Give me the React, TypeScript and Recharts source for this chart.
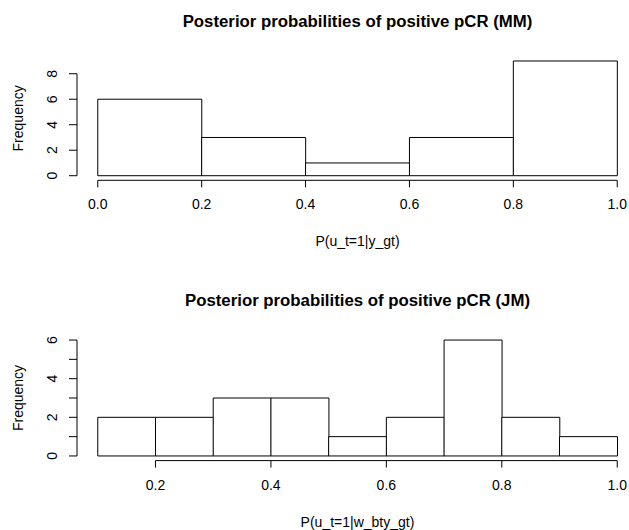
import { ComposedChart, Bar, XAxis, YAxis, ReferenceLine, Label } from "recharts";

// histogram of P(u_t=1|y_gt), bins of width 0.2
const mmBinMids = [0.1, 0.3, 0.5, 0.7, 0.9];
const mmCounts = [6, 3, 1, 3, 9];
const mmXTicks = [0, 0.2, 0.4, 0.6, 0.8, 1.0];
const mmYTicks = [0, 2, 4, 6, 8];

// histogram of P(u_t=1|w_bty_gt), bins of width 0.1
const jmBinMids = [0.15, 0.25, 0.35, 0.45, 0.55, 0.65, 0.75, 0.85, 0.95];
const jmCounts = [2, 2, 3, 3, 1, 2, 6, 2, 1];
const jmXTicks = [0.2, 0.4, 0.6, 0.8, 1.0];
const jmYTicks = [0, 1, 2, 3, 4, 5, 6];

const FONT = '"Liberation Sans", Arial, Helvetica, sans-serif';
const INK = "#000";

const toRows = (mids: number[], counts: number[]) =>
  mids.map((mid, i) => ({ mid, count: counts[i] }));

const XTick = (props: any) => {
  const { x, y, payload } = props;
  return (
    <text x={x} y={y + 15} textAnchor="middle" dominantBaseline="central" fontSize={14} fontFamily={FONT} fill={INK}>
      {Number(payload.value).toFixed(1)}
    </text>
  );
};

// R prints y labels parallel to the axis and skips the odd ones when they would crowd
const YTick = (props: any) => {
  const { x, y, payload } = props;
  if (payload.value % 2 !== 0) return <g />;
  const cx = x - 15;
  return (
    <text x={cx} y={y} transform={`rotate(-90 ${cx} ${y})`} textAnchor="middle" dominantBaseline="central" fontSize={14} fontFamily={FONT} fill={INK}>
      {payload.value}
    </text>
  );
};

type HistProps = {
  title: string;
  xLabel: string;
  mids: number[];
  counts: number[];
  xDomain: [number, number];
  yDomain: [number, number];
  xTicks: number[];
  yTicks: number[];
  marginTop: number;
  xAxisHeight: number;
  marginBottom: number;
  titleTop: number;
};

function Histogram(p: HistProps) {
  const data = toRows(p.mids, p.counts);
  const xFirst = p.xTicks[0];
  const xLast = p.xTicks[p.xTicks.length - 1];
  const yFirst = p.yTicks[0];
  const yLast = p.yTicks[p.yTicks.length - 1];
  return (
    <div style={{ position: "relative", width: 629, height: 265 }}>
      <div
        style={{
          position: "absolute",
          left: 57.5,
          width: 600,
          top: p.titleTop,
          textAlign: "center",
          fontFamily: FONT,
          fontWeight: "bold",
          fontSize: 16.8,
          lineHeight: "20px",
          color: INK,
        }}
      >
        {p.title}
      </div>
      <ComposedChart
        width={660}
        height={265}
        data={data}
        margin={{ top: p.marginTop, right: 22, bottom: p.marginBottom, left: 0 }}
        barCategoryGap={0}
        barGap={0}
        style={{ overflow: "visible" }}
      >
        <XAxis
          dataKey="mid"
          type="number"
          domain={p.xDomain}
          ticks={p.xTicks}
          allowDataOverflow
          interval={0}
          height={p.xAxisHeight}
          axisLine={false}
          tickLine={{ stroke: INK }}
          tickSize={7}
          tick={<XTick />}
        >
          <Label
            content={(lp: any) => {
              const vb = lp.viewBox;
              return (
                <text x={vb.x + vb.width / 2} y={vb.y + 61} textAnchor="middle" dominantBaseline="central" fontSize={14} fontFamily={FONT} fill={INK}>
                  {p.xLabel}
                </text>
              );
            }}
          />
        </XAxis>
        <YAxis
          type="number"
          domain={p.yDomain}
          ticks={p.yTicks}
          allowDataOverflow
          interval={0}
          width={77}
          axisLine={false}
          tickLine={{ stroke: INK }}
          tickSize={8}
          tick={<YTick />}
        >
          <Label
            content={(lp: any) => {
              const vb = lp.viewBox;
              const cx = 18;
              const cy = vb.y + vb.height / 2;
              return (
                <text x={cx} y={cy} transform={`rotate(-90 ${cx} ${cy})`} textAnchor="middle" dominantBaseline="central" fontSize={14} fontFamily={FONT} fill={INK}>
                  Frequency
                </text>
              );
            }}
          />
        </YAxis>
        <Bar dataKey="count" fill="#fff" stroke={INK} strokeWidth={1} isAnimationActive={false} />
        <ReferenceLine
          segment={[{ x: xFirst, y: p.yDomain[0] }, { x: xLast, y: p.yDomain[0] }]}
          stroke={INK}
          ifOverflow="visible"
        />
        <ReferenceLine
          segment={[{ x: p.xDomain[0], y: yFirst }, { x: p.xDomain[0], y: yLast }]}
          stroke={INK}
          ifOverflow="visible"
        />
      </ComposedChart>
    </div>
  );
}

export default function App() {
  return (
    <div style={{ position: "absolute", left: 0, top: 0, width: 629, height: 530, background: "#fff", overflow: "hidden" }}>
      <Histogram
        title="Posterior probabilities of positive pCR (MM)"
        xLabel="P(u_t=1|y_gt)"
        mids={mmBinMids}
        counts={mmCounts}
        xDomain={[-0.04, 1.04]}
        yDomain={[-0.36, 9.36]}
        xTicks={mmXTicks}
        yTicks={mmYTicks}
        marginTop={56.4}
        xAxisHeight={80}
        marginBottom={4.7}
        titleTop={12}
      />
      <Histogram
        title="Posterior probabilities of positive pCR (JM)"
        xLabel="P(u_t=1|w_bty_gt)"
        mids={jmBinMids}
        counts={jmCounts}
        xDomain={[0.064, 1.036]}
        yDomain={[-0.24, 6.24]}
        xTicks={jmXTicks}
        yTicks={jmYTicks}
        marginTop={70.4}
        xAxisHeight={65}
        marginBottom={4.4}
        titleTop={26}
      />
    </div>
  );
}
